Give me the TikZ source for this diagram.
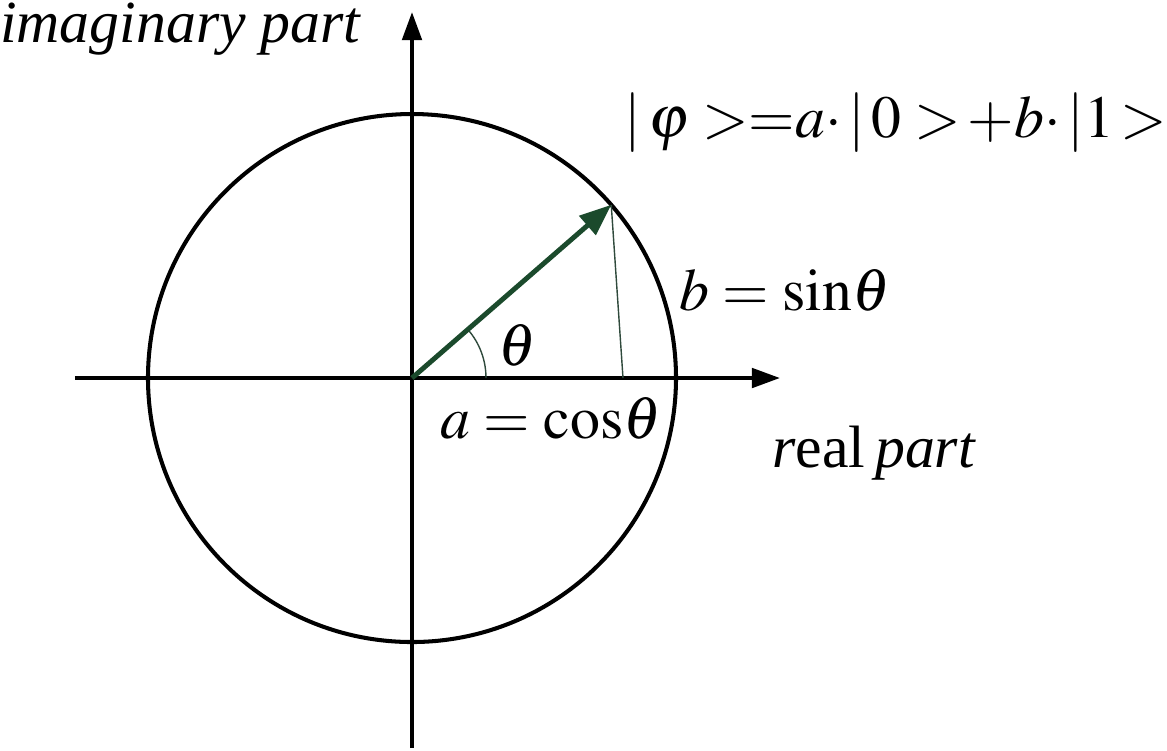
\documentclass[tikz,border=0pt]{standalone}
\usepackage{amsmath}
\usepackage{mathptmx}
\usepackage[no-math]{fontspec}
\setmainfont{Liberation Serif}
\usetikzlibrary{arrows.meta}
\definecolor{vecgreen}{HTML}{1B4A2C}
\definecolor{thingrey}{HTML}{2F4A3C}

\begin{document}
\begin{tikzpicture}[x=0.01cm,y=0.01cm,
    axis/.style={line width=1.15pt,-{Triangle[length=8pt,width=5.5pt]}},
    lbl/.style={inner sep=0pt,font=\fontsize{17}{20}\selectfont}]
    \useasboundingbox (-412,-372) rectangle (755,378);
    % 绘制坐标轴
    \coordinate (O) at (0,0);
    \coordinate (xs) at (-337,0);
    \coordinate (xe) at (368,0);
    \coordinate (ys) at (0,-370);
    \coordinate (ye) at (0,366);
    \draw[axis] (xs) -- (xe);
    \draw[axis] (ys) -- (ye);
    \node[lbl,anchor=base] (im) at (-231,336) {\textit{imaginary part}};
    \node[lbl,anchor=base] (re) at (462,-89) {\textit{r}eal\,\textit{part}};

    % 单位圆与向量
    \draw[line width=1.15pt] (O) circle (264);
    \coordinate (P) at (41:264);
    \coordinate (Px) at (211,0);
    \draw[thingrey,line width=0.4pt] (P) -- (Px);
    \draw[thingrey,line width=0.4pt] (74,0) arc (0:41:74);
    \draw[vecgreen,line width=1.4pt,-{Triangle[length=9pt,width=7pt]}] (O) -- (P);

    \node[lbl] (th) at (106,33) {$\theta$};
    \node[lbl,anchor=base] (b) at (373,68) {$b=\mathrm{sin}\theta$};
    \node[lbl,anchor=base] (a) at (139,-60) {$a=\mathrm{cos}\theta$};
    \node[lbl,anchor=base] (psi) at (484,241) {$|\,\varphi\;{>}{=}a{\cdot}\,|\,0\;{>}\,{+}b{\cdot}\,|1\,{>}$};
\end{tikzpicture}
\end{document}
